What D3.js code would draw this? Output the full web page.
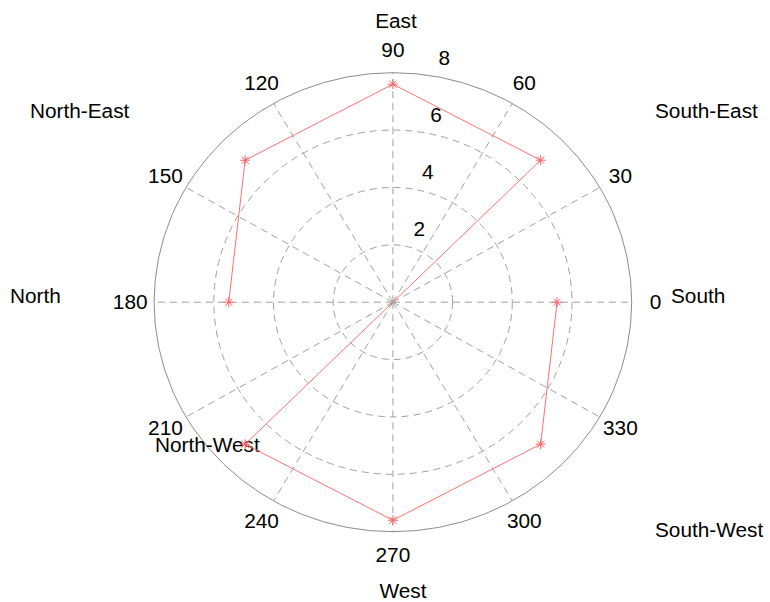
<!DOCTYPE html>
<html>
<head>
<meta charset="utf-8">
<script src="https://cdn.jsdelivr.net/npm/d3@7"></script>
<style>
  html, body { margin: 0; padding: 0; background: #fff; }
  svg { display: block; font-family: "Liberation Sans", Arial, sans-serif; }
</style>
</head>
<body>
<svg id="chart" width="770" height="602"></svg>
<script>
// Polar trace: direction (degrees) and magnitude, in drawing order
const thetaDeg = [180, 135, 90, 45, 225, 270, 315, 0];
const rValues  = [5.5, 7.0, 7.6, 7.0, 7.0, 7.6, 7.0, 5.5];

// Grid rings and angular spokes
const ringTicks  = [2, 4, 6, 8];
const spokeAngles = [0, 30, 60, 90, 120, 150, 180, 210, 240, 270, 300, 330];

// Compass names written around the plot
const compassNames = ["East", "South-East", "South", "South-West", "West", "North-West", "North", "North-East"];

const W = 770, H = 602;
const cx = 392.9, cy = 302.2;
const rMax = 8;
const fontSize = 20;
const stretchX = 1.04; // plot box is slightly wider than tall; text follows

const svg = d3.select("#chart");

// radial scales
const rx = d3.scaleLinear().domain([0, rMax]).range([0, 238.8]);
const ry = d3.scaleLinear().domain([0, rMax]).range([0, 229.5]);
const rad = d => d * Math.PI / 180;
const px = (r, a) => cx + rx(r) * Math.cos(rad(a));
const py = (r, a) => cy - ry(r) * Math.sin(rad(a));
const place = (x, y) => `translate(${x},${y}) scale(${stretchX},1)`;

const grid = svg.append("g");

// spokes from the centre to the outer ring
grid.selectAll("line.spoke")
  .data(spokeAngles)
  .join("line")
  .attr("class", "spoke")
  .attr("x1", cx).attr("y1", cy)
  .attr("x2", a => px(rMax, a)).attr("y2", a => py(rMax, a))
  .attr("stroke", "#a0a0a0")
  .attr("stroke-width", 1)
  .attr("stroke-dasharray", "7,5");

// rings
grid.selectAll("ellipse.ring")
  .data(ringTicks)
  .join("ellipse")
  .attr("class", "ring")
  .attr("cx", cx).attr("cy", cy)
  .attr("rx", d => rx(d)).attr("ry", d => ry(d))
  .attr("fill", "none")
  .attr("stroke", d => d === rMax ? "#8c8c8c" : "#a0a0a0")
  .attr("stroke-width", 1)
  .attr("stroke-dasharray", d => d === rMax ? null : "7,5");

// ring value labels along the 82 degree ray
const c82 = 82;
svg.append("g").selectAll("text")
  .data(ringTicks)
  .join("text")
  .attr("transform", d => place(px(d + 0.1, c82) + 12, py(d + 0.1, c82) - 7))
  .attr("font-size", fontSize)
  .attr("fill", "#000")
  .text(d => d);

// angle labels just outside the outer ring
svg.append("g").selectAll("text")
  .data(spokeAngles)
  .join("text")
  .attr("transform", a => place(px(rMax * 1.1, a), py(rMax * 1.1, a)))
  .attr("text-anchor", "middle")
  .attr("dominant-baseline", "central")
  .attr("font-size", fontSize)
  .attr("fill", "#000")
  .text(a => a);

// compass names
const compassPos = [
  {x: 396, y: 28, anchor: "middle"},
  {x: 655, y: 118, anchor: "start"},
  {x: 671, y: 303, anchor: "start"},
  {x: 655, y: 537, anchor: "start"},
  {x: 403, y: 598, anchor: "middle"},
  {x: 155, y: 452, anchor: "start"},
  {x: 10,  y: 303, anchor: "start"},
  {x: 30,  y: 118, anchor: "start"}
];
svg.append("g").selectAll("text")
  .data(compassNames)
  .join("text")
  .attr("transform", (d, i) => place(compassPos[i].x, compassPos[i].y))
  .attr("text-anchor", (d, i) => compassPos[i].anchor)
  .attr("font-size", fontSize)
  .attr("fill", "#000")
  .text(d => d);

// trace
const pts = thetaDeg.map((a, i) => [px(rValues[i], a), py(rValues[i], a)]);
svg.append("path")
  .attr("d", d3.line()(pts))
  .attr("fill", "none")
  .attr("stroke", "#ff7070")
  .attr("stroke-width", 1);

// asterisk markers
const star = (x, y, s) => {
  const p = d3.path();
  const d = s * 0.7071;
  p.moveTo(x - s, y); p.lineTo(x + s, y);
  p.moveTo(x, y - s); p.lineTo(x, y + s);
  p.moveTo(x - d, y - d); p.lineTo(x + d, y + d);
  p.moveTo(x - d, y + d); p.lineTo(x + d, y - d);
  return p.toString();
};
svg.append("g").selectAll("path")
  .data(pts)
  .join("path")
  .attr("d", d => star(d[0], d[1], 5))
  .attr("fill", "none")
  .attr("stroke", "#ff6060")
  .attr("stroke-width", 1);
</script>
</body>
</html>
